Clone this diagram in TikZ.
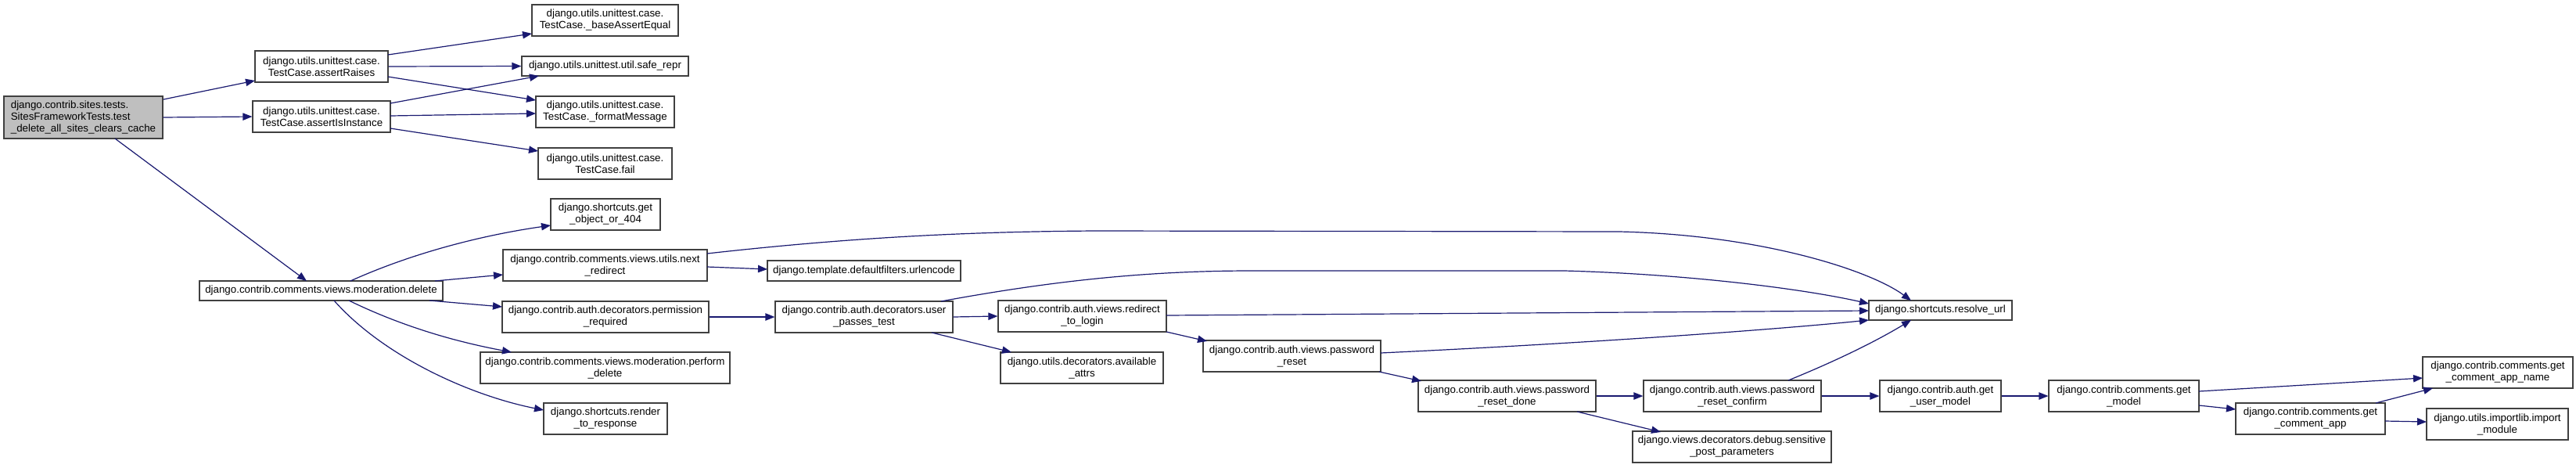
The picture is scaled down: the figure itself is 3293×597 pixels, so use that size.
\documentclass[tikz,border=0pt]{standalone}
\usepackage{fontspec}
\setmainfont{Liberation Sans}
\usetikzlibrary{arrows.meta,calc}
\definecolor{edgeblue}{HTML}{191970}
\definecolor{rootgray}{HTML}{BFBFBF}
\begin{document}
\begin{tikzpicture}[x=0.75pt,y=-0.75pt,
  fn/.style={draw=black!75, line width=0.9pt, fill=white, inner sep=0pt, align=center,
    font=\fontsize{10}{11.25}\selectfont},
  wh/.style 2 args={minimum width=#1*0.75pt, minimum height=#2*0.75pt},
  call/.style={draw=edgeblue, line width=0.9pt, -{Triangle[length=9pt,width=7pt]}}
]
\useasboundingbox (0,0) rectangle (3293,597);
\fill[white] (0,0) rectangle (3293,597);

\node[fn, fill=rootgray, align=left, wh={203}{54}] (root) at (106.5,150) {django.contrib.sites.tests.\\SitesFrameworkTests.test\\\_delete\_all\_sites\_clears\_cache};
\node[fn, wh={170}{40}] (ar) at (411,85) {django.utils.unittest.case.\\TestCase.assertRaises};
\node[fn, wh={176}{40}] (ai) at (411,149) {django.utils.unittest.case.\\TestCase.assertIsInstance};
\node[fn, wh={187}{40}] (bae) at (773.5,26) {django.utils.unittest.case.\\TestCase.\_baseAssertEqual};
\node[fn, wh={213}{25}] (sr) at (773.5,84.5) {django.utils.unittest.util.safe\_repr};
\node[fn, wh={177}{40}] (fm) at (773.5,143) {django.utils.unittest.case.\\TestCase.\_formatMessage};
\node[fn, wh={171}{40}] (fail) at (773.5,209) {django.utils.unittest.case.\\TestCase.fail};
\node[fn, wh={140}{40}] (go) at (774,274) {django.shortcuts.get\\\_object\_or\_404};
\node[fn, wh={311}{25}] (del) at (410.5,371.5) {django.contrib.comments.views.moderation.delete};
\node[fn, wh={261}{40}] (nr) at (773.5,339) {django.contrib.comments.views.utils.next\\\_redirect};
\node[fn, wh={247}{26}] (ue) at (1104.5,346) {django.template.defaultfilters.urlencode};
\node[fn, wh={264}{40}] (pr) at (774,405) {django.contrib.auth.decorators.permission\\\_required};
\node[fn, wh={227}{40}] (upt) at (1104.5,405) {django.contrib.auth.decorators.user\\\_passes\_test};
\node[fn, wh={319}{40}] (pd) at (773.5,470) {django.contrib.comments.views.moderation.perform\\\_delete};
\node[fn, wh={158}{40}] (rr) at (774,535) {django.shortcuts.render\\\_to\_response};
\node[fn, wh={215}{40}] (rtl) at (1383.5,404) {django.contrib.auth.views.redirect\\\_to\_login};
\node[fn, wh={208}{40}] (aa) at (1383,470) {django.utils.decorators.available\\\_attrs};
\node[fn, wh={227}{40}] (prs) at (1651.5,455) {django.contrib.auth.views.password\\\_reset};
\node[fn, wh={227}{40}] (prd) at (1926.5,506) {django.contrib.auth.views.password\\\_reset\_done};
\node[fn, wh={183}{25}] (ru) at (2480.5,396.5) {django.shortcuts.resolve\_url};
\node[fn, wh={227}{40}] (prc) at (2214.5,506) {django.contrib.auth.views.password\\\_reset\_confirm};
\node[fn, wh={155}{40}] (gum) at (2480.5,506) {django.contrib.auth.get\\\_user\_model};
\node[fn, wh={254}{40}] (spp) at (2214,571) {django.views.decorators.debug.sensitive\\\_post\_parameters};
\node[fn, wh={192}{40}] (gm) at (2715,506) {django.contrib.comments.get\\\_model};
\node[fn, wh={191}{40}] (gca) at (2953.5,535) {django.contrib.comments.get\\\_comment\_app};
\node[fn, wh={192}{40}] (gcan) at (3193,476) {django.contrib.comments.get\\\_comment\_app\_name};
\node[fn, wh={181}{40}] (im) at (3192.5,542) {django.utils.importlib.import\\\_module};

% edges
\draw[call] ($(root)+(102.5,-23)$) -- ($(ar)+(-85,18)$);
\draw[call] (root.east) -- (ai.west);
\draw[call] ($(root)+(40.5,27)$) -- ($(del)+(-18.5,-12.5)$);
\draw[call] ($(ar)+(85,-15)$) -- ($(bae)+(-93.5,17)$);
\draw[call] (ar.east) -- (sr.west);
\draw[call] ($(ar)+(85,13)$) -- ($(fm)+(-88.5,-15)$);
\draw[call] ($(ai)+(88,-17)$) -- ($(sr)+(-84.5,12.5)$);
\draw[call] ($(ai)+(88,-1)$) -- ($(fm)+(-88.5,2)$);
\draw[call] ($(ai)+(88,15)$) -- ($(fail)+(-85.5,-16)$);
\draw[call] ($(del)+(37.5,-12.5)$) .. controls (530,322) and (620,300) .. ($(go)+(-70,14)$);
\draw[call] ($(del)+(145.5,-12.5)$) -- ($(nr)+(-130.5,12)$);
\draw[call] ($(del)+(138.5,12.5)$) -- ($(pr)+(-132,-13)$);
\draw[call] ($(del)+(35.5,12.5)$) .. controls (520,420) and (590,438) .. ($(pd)+(-119.5,-20)$);
\draw[call] ($(del)+(16.5,12.5)$) .. controls (490,455) and (600,505) .. ($(rr)+(-79,-11)$);
\draw[call] ($(nr)+(130.5,2)$) -- ($(ue)+(-123.5,-2)$);
\draw[call] ($(nr)+(130.5,-15)$) .. controls (1100,302) and (1250,296) .. (1400,295) -- (2070,296) .. controls (2250,300) and (2390,345) .. ($(ru)+(-37.5,-12.5)$);
\draw[call] (pr.east) -- (upt.west);
\draw[call] ($(upt)+(98.5,-20)$) .. controls (1350,358) and (1470,346) .. (1600,346) -- (2000,346) .. controls (2150,350) and (2300,368) .. ($(ru)+(-91.5,-8.5)$);
\draw[call] (upt.east) -- (rtl.west);
\draw[call] ($(upt)+(86.5,20)$) -- ($(aa)+(-90,-20)$);
\draw[call] ($(rtl)+(107.5,-1)$) -- ($(ru)+(-91.5,0.5)$);
\draw[call] ($(rtl)+(107.5,20)$) -- ($(prs)+(-108.5,-19)$);
\draw[call] ($(prs)+(113.5,-4)$) .. controls (2000,440) and (2250,423) .. ($(ru)+(-91.5,12.5)$);
\draw[call] ($(prs)+(111.5,20)$) -- ($(prd)+(-109.5,-19)$);
\draw[call] (prd.east) -- (prc.west);
\draw[call] ($(prd)+(89.5,20)$) -- ($(spp)+(-91,-19)$);
\draw[call] ($(prc)+(71.5,-20)$) .. controls (2350,460) and (2400,435) .. ($(ru)+(-37.5,12.5)$);
\draw[call] (prc.east) -- (gum.west);
\draw[call] (gum.east) -- (gm.west);
\draw[call] ($(gm)+(96,-6)$) -- ($(gcan)+(-96,7)$);
\draw[call] ($(gm)+(96,12)$) -- ($(gca)+(-95.5,-12)$);
\draw[call] ($(gca)+(83.5,-20)$) -- ($(gcan)+(-83,20)$);
\draw[call] ($(gca)+(95.5,3)$) -- ($(im)+(-90.5,-3)$);
\end{tikzpicture}
\end{document}
